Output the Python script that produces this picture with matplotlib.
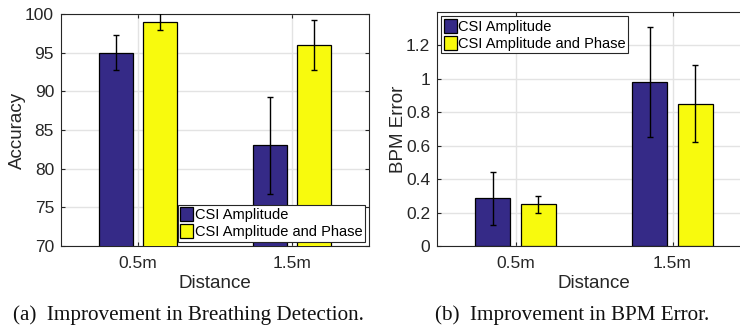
import numpy as np
import matplotlib.pyplot as plt

distances = ['0.5m', '1.5m']
series = ['CSI Amplitude', 'CSI Amplitude and Phase']

acc_amp = [95, 83]
acc_amp_err = [2.25, 6.25]
acc_both = [99, 96]
acc_both_err = [1.1, 3.25]

bpm_amp = [0.285, 0.98]
bpm_amp_err = [0.16, 0.33]
bpm_both = [0.25, 0.85]
bpm_both_err = [0.05, 0.23]

plt.rcParams['font.family'] = ['Liberation Sans', 'DejaVu Sans']

blue = '#352a87'
yellow = '#f8fa0d'
W, H = 740, 328

fig = plt.figure(figsize=(W / 100, H / 100), dpi=100)


def panel(rect, a, a_err, b, b_err, ylim, yticks, yticklabels, ylabel, legloc):
    ax = fig.add_axes(rect)
    x = np.arange(1, len(distances) + 1)
    off, w = 0.145, 0.22
    ek = dict(ecolor='black', elinewidth=1.0, capsize=2, capthick=1.0)
    ax.bar(x - off, a, w, yerr=a_err, color=blue, edgecolor='black', linewidth=0.9,
           label=series[0], error_kw=ek, zorder=3)
    ax.bar(x + off, b, w, yerr=b_err, color=yellow, edgecolor='black', linewidth=0.9,
           label=series[1], error_kw=ek, zorder=3)
    ax.set_xlim(0.5, 2.5)
    ax.set_ylim(*ylim)
    ax.set_xticks(x)
    ax.set_xticklabels(distances)
    ax.set_yticks(yticks)
    ax.set_yticklabels(yticklabels)
    ax.grid(True, color='#e3e3e3', linewidth=1.0, zorder=0)
    ax.set_axisbelow(True)
    ax.tick_params(direction='in', length=3, width=0.8, colors='#262626',
                   labelsize=12.5, top=True, right=True, pad=5)
    ax.tick_params(axis='x', pad=7)
    for s in ax.spines.values():
        s.set_color('#262626')
        s.set_linewidth(0.8)
    ax.set_xlabel('Distance', fontsize=13.5, color='#262626', labelpad=3)
    ax.set_ylabel(ylabel, fontsize=13.5, color='#262626', labelpad=-1)
    leg = ax.legend(loc=legloc, fontsize=10.5, fancybox=False, framealpha=1,
                    edgecolor='#262626', handlelength=0.9, handleheight=1.1,
                    handletextpad=0.1, borderpad=0.15, labelspacing=0.15,
                    borderaxespad=0.3)
    leg.get_frame().set_linewidth(0.8)
    leg.set_zorder(5)
    return ax


panel([61 / W, 1 - 246 / H, 308 / W, 232 / H], acc_amp, acc_amp_err, acc_both, acc_both_err,
      (70, 100), np.arange(70, 101, 5), [str(v) for v in range(70, 101, 5)],
      'Accuracy', 'lower right')

panel([437 / W, 1 - 246 / H, 314 / W, 234 / H], bpm_amp, bpm_amp_err, bpm_both, bpm_both_err,
      (0, 1.4), np.arange(0, 1.21, 0.2), ['0', '0.2', '0.4', '0.6', '0.8', '1', '1.2'],
      'BPM Error', 'upper left')

cap = dict(fontsize=15.2, family=['Liberation Serif', 'DejaVu Serif'], va='baseline', color='#111111')
fig.text(13 / W, 1 - 320 / H, '(a)  Improvement in Breathing Detection.', ha='left', **cap)
fig.text(435 / W, 1 - 320 / H, '(b)  Improvement in BPM Error.', ha='left', **cap)

fig.savefig('out.png', dpi=100)
